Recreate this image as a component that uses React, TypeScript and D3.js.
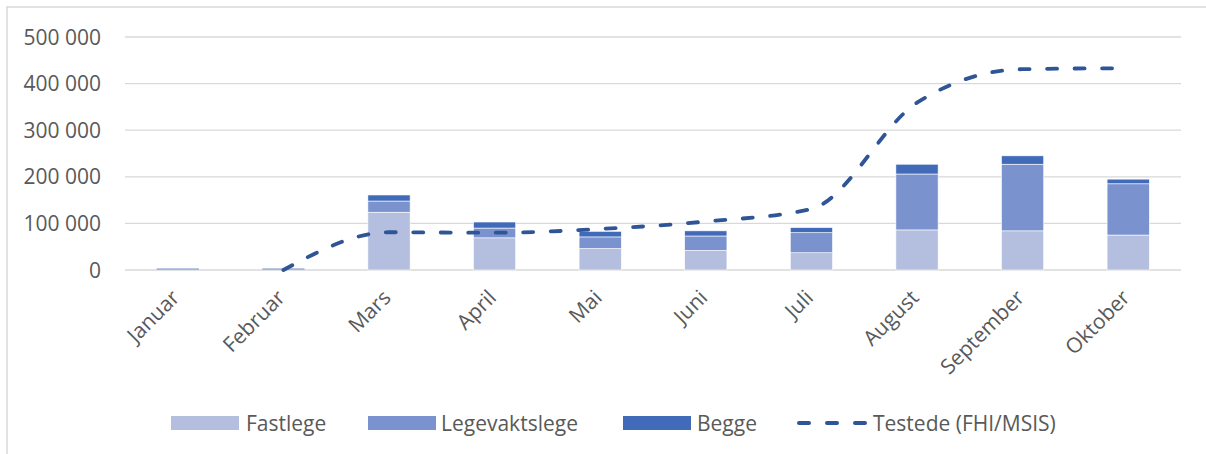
import React from "react";
import * as d3 from "d3";

const months = ["Januar", "Februar", "Mars", "April", "Mai", "Juni", "Juli", "August", "September", "Oktober"];
const fastlege = [1200, 1200, 124000, 69000, 46000, 42000, 37000, 86000, 84000, 75000];
const legevaktslege = [1500, 1500, 24000, 21000, 25000, 31000, 43000, 120000, 143000, 110000];
const begge = [500, 500, 13000, 13000, 12000, 11000, 11000, 21000, 18000, 10000];
const testede: (number | null)[] = [null, 0, 81000, 80000, 88000, 104000, 131000, 359000, 431000, 433000];
const yTicks = [0, 100000, 200000, 300000, 400000, 500000];
const seriesNames = ["Fastlege", "Legevaktslege", "Begge"];
const lineName = "Testede (FHI/MSIS)";

const COLORS = ["#B4BFE0", "#7A93CF", "#416BB9"];
const LINE_COLOR = "#2F5597";
const TEXT = "#595959";
const GRID = "#D9D9D9";
const FONT = "'Open Sans', 'Liberation Sans', sans-serif";
const FS = 21;

const W = 1206;
const H = 454;
const M = { left: 125, right: 1181, top: 37, bottom: 270 };

const fmt = d3.formatLocale({ decimal: ",", thousands: " ", grouping: [3], currency: ["", ""] }).format(",");

export default function App() {
  const x = d3.scaleBand<string>().domain(months).range([M.left, M.right]).paddingInner(0.6).paddingOuter(0.3);
  const y = d3.scaleLinear().domain([0, 500000]).range([M.bottom, M.top]);

  const rows = months.map((m, i) => ({ month: m, Fastlege: fastlege[i], Legevaktslege: legevaktslege[i], Begge: begge[i] }));
  const stack = d3.stack<any>().keys(seriesNames)(rows);

  const linePts = months
    .map((m, i) => ({ m, v: testede[i] }))
    .filter((d) => d.v !== null) as { m: string; v: number }[];
  const line = d3
    .line<{ m: string; v: number }>()
    .x((d) => (x(d.m) as number) + x.bandwidth() / 2)
    .y((d) => y(d.v))
    .curve(d3.curveMonotoneX);

  const legend = [
    { type: "rect", color: COLORS[0], label: seriesNames[0], sx: 171, tx: 246 },
    { type: "rect", color: COLORS[1], label: seriesNames[1], sx: 368, tx: 441 },
    { type: "rect", color: COLORS[2], label: seriesNames[2], sx: 623, tx: 697 },
    { type: "line", color: LINE_COLOR, label: lineName, sx: 799, tx: 873 },
  ];

  return (
    <svg
      width={W}
      height={H}
      style={{ position: "absolute", left: 0, top: 0, display: "block", background: "#fff" }}
      fontFamily={FONT}
    >
      <rect x={7} y={7} width={W + 20} height={H + 20} fill="#fff" stroke={GRID} strokeWidth={1.5} />
      {yTicks.map((t) => (
        <g key={t}>
          <line x1={M.left} x2={M.right} y1={y(t)} y2={y(t)} stroke={GRID} strokeWidth={1.3} />
          <text x={101} y={y(t)} dy="0.36em" textAnchor="end" fontSize={FS} fill={TEXT}>
            {fmt(t)}
          </text>
        </g>
      ))}
      {stack.map((s, si) => (
        <g key={s.key} fill={COLORS[si]}>
          {s.map((d, i) => {
            const h = Math.max(0, y(d[0]) - y(d[1]));
            return (
              <rect
                key={i}
                x={x(months[i])}
                width={x.bandwidth()}
                y={y(d[1])}
                height={h}
                stroke={h > 3 ? "#fff" : "none"}
                strokeWidth={0.6}
              />
            );
          })}
        </g>
      ))}
      <path
        d={line(linePts) || ""}
        fill="none"
        stroke={LINE_COLOR}
        strokeWidth={3.8}
        strokeLinecap="round"
        strokeDasharray="10 17.5"
      />
      {months.map((m) => {
        const cx = (x(m) as number) + x.bandwidth() / 2 + 3;
        const cy = 299;
        return (
          <text
            key={m}
            x={cx}
            y={cy}
            textAnchor="end"
            fontSize={FS}
            fill={TEXT}
            transform={`rotate(-45 ${cx} ${cy})`}
          >
            {m}
          </text>
        );
      })}
      {legend.map((l) => (
        <g key={l.label}>
          {l.type === "rect" ? (
            <rect x={l.sx} y={416} width={68} height={14} fill={l.color} />
          ) : (
            <line
              x1={l.sx}
              x2={l.sx + 68}
              y1={423}
              y2={423}
              stroke={l.color}
              strokeWidth={4}
              strokeLinecap="round"
              strokeDasharray="10 18"
            />
          )}
          <text x={l.tx} y={423} dy="0.36em" fontSize={FS} fill={TEXT}>
            {l.label}
          </text>
        </g>
      ))}
    </svg>
  );
}
